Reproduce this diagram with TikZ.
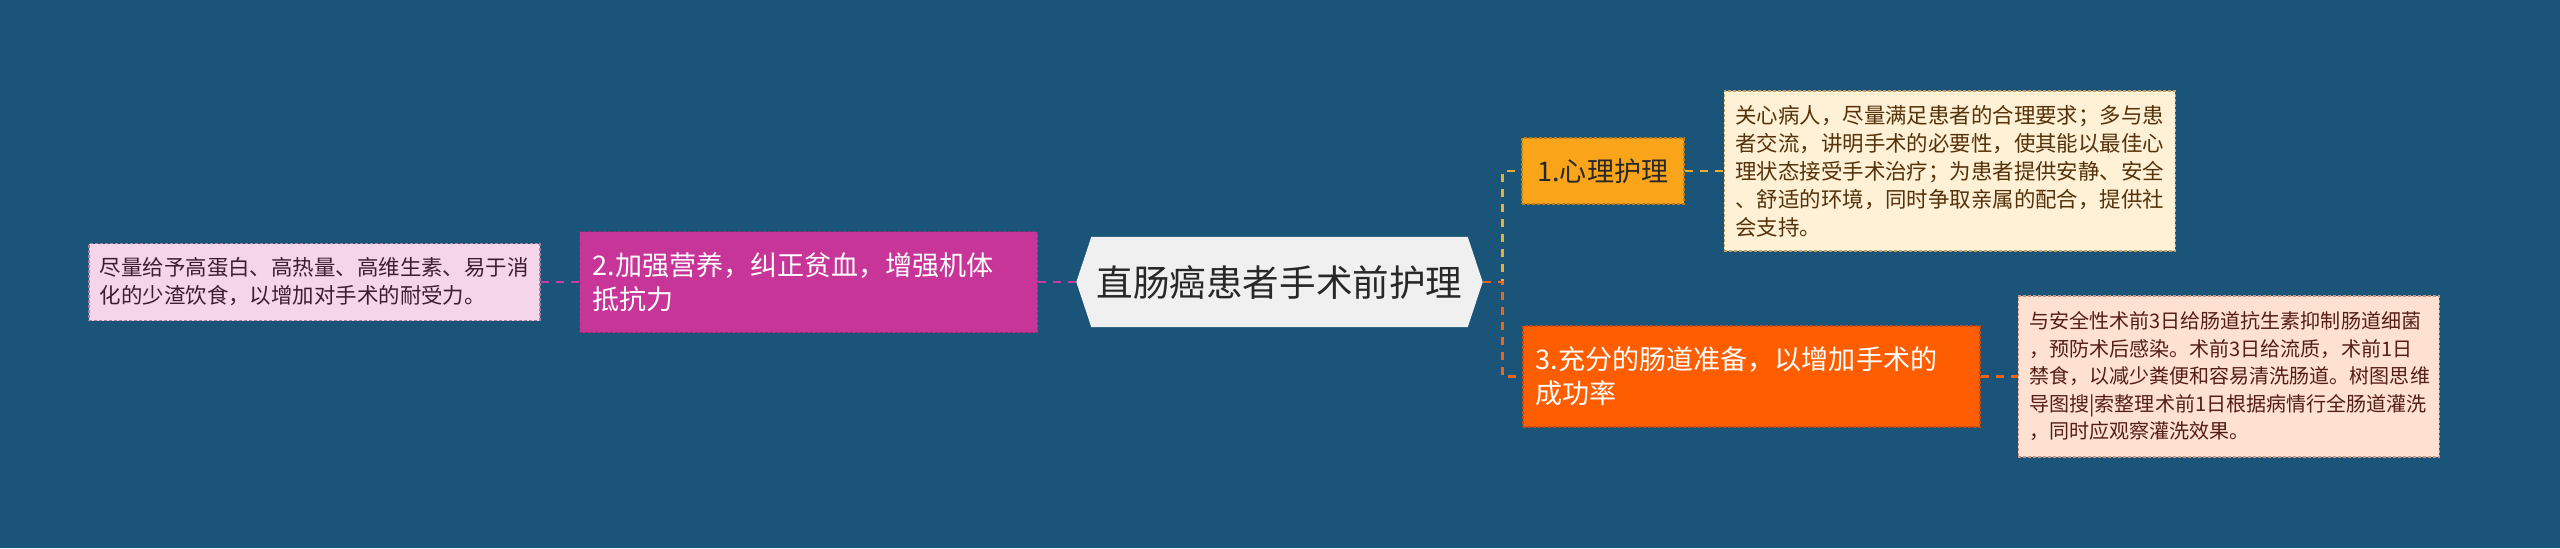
\documentclass[tikz,border=0pt]{standalone}
\usepackage{fontspec}
\setmainfont{Noto Sans CJK SC}
\usepackage{tikz}
\usepackage{xcolor}
\usetikzlibrary{positioning, backgrounds}

\definecolor{bgblue}{RGB}{27,84,121}
\definecolor{rootfill}{RGB}{240,240,240}
\definecolor{roottext}{RGB}{40,40,40}
\definecolor{psyfill}{RGB}{250,165,25}
\definecolor{psyborder}{RGB}{190,125,20}
\definecolor{psynote}{RGB}{255,241,214}
\definecolor{psynoteborder}{RGB}{195,160,95}
\definecolor{psytext}{RGB}{85,50,10}
\definecolor{bowelfill}{RGB}{255,94,0}
\definecolor{bowelborder}{RGB}{195,75,15}
\definecolor{bowelnote}{RGB}{255,225,210}
\definecolor{bowelnoteborder}{RGB}{200,150,130}
\definecolor{boweltext}{RGB}{85,30,20}
\definecolor{nutrifill}{RGB}{199,53,152}
\definecolor{nutriborder}{RGB}{150,40,120}
\definecolor{nutrinote}{RGB}{245,213,234}
\definecolor{nutrinoteborder}{RGB}{165,130,155}
\definecolor{nutritext}{RGB}{60,30,50}
\definecolor{linkyellow}{RGB}{235,175,45}
\definecolor{linkorange}{RGB}{240,100,20}
\definecolor{linkmagenta}{RGB}{200,60,160}

\begin{document}
\begin{tikzpicture}[node distance=0.38cm, auto,
    rootbox/.style={rectangle, minimum width=3.75cm, minimum height=0.89cm, inner sep=0pt,
        text=roottext, font=\fontsize{10.4pt}{12pt}\selectfont},
    topicbox/.style={rectangle, draw, line width=0.45pt, dash pattern=on 0.03cm off 0.02cm,
        inner xsep=0.13cm, inner ysep=0pt, align=left, font=\fontsize{7.7pt}{9.67pt}\selectfont},
    notebox/.style={rectangle, draw, line width=0.45pt, dash pattern=on 0.03cm off 0.02cm,
        inner xsep=0.11cm, inner ysep=0pt, align=left, font=\fontsize{6.1pt}{7.97pt}\selectfont},
    link/.style={line width=0.8pt, dash pattern=on 0.08cm off 0.07cm}
]
    \useasboundingbox (0,0) rectangle (25.6,5.48);

    % Nodes
    \node[rootbox] (root) at (12.795,2.66) {直肠癌患者手术前护理};
    \coordinate (rootL) at ([xshift=-0.15cm]root.west);
    \coordinate (rootR) at ([xshift=0.15cm]root.east);

    \node[topicbox, fill=nutrifill, draw=nutriborder, text=white, text width=4.32cm, minimum height=1.01cm,
        inner xsep=0.13cm, left=of rootL] (nutrition) {2.加强营养，纠正贫血，增强机体\\抵抗力};
    \node[notebox, fill=nutrinote, draw=nutrinoteborder, text=nutritext, text width=4.29cm, minimum height=0.77cm,
        left=of nutrition] (nutritionNote) {尽量给予高蛋白、高热量、高维生素、易于消\\化的少渣饮食，以增加对手术的耐受力。};

    \node[topicbox, fill=psyfill, draw=psyborder, text=roottext, text width=1.36cm, minimum height=0.66cm,
        align=center, anchor=west] (psych) at (15.21,3.77) {1.心理护理};
    \node[notebox, fill=psynote, draw=psynoteborder, text=psytext, text width=4.29cm, minimum height=1.60cm,
        right=0.39cm of psych] (psychNote) {关心病人，尽量满足患者的合理要求；多与患\\者交流，讲明手术的必要性，使其能以最佳心\\理状态接受手术治疗；为患者提供安静、安全\\、舒适的环境，同时争取亲属的配合，提供社\\会支持。};

    \node[topicbox, fill=bowelfill, draw=bowelborder, text=white, text width=4.31cm, minimum height=1.01cm,
        anchor=west] (bowel) at (15.22,1.715) {3.充分的肠道准备，以增加手术的\\成功率};
    \node[notebox, fill=bowelnote, draw=bowelnoteborder, text=boweltext, text width=3.99cm, minimum height=1.61cm,
        font=\fontsize{5.7pt}{7.82pt}\selectfont, right=0.37cm of bowel] (bowelNote) {与安全性术前3日给肠道抗生素抑制肠道细菌\\，预防术后感染。术前3日给流质，术前1日\\禁食，以减少粪便和容易清洗肠道。树图思维\\导图搜|索整理术前1日根据病情行全肠道灌洗\\，同时应观察灌洗效果。};

    % Background and root shape
    \begin{pgfonlayer}{background}
        \fill[bgblue] (0,0) rectangle (25.6,5.48);
        \fill[rootfill] (root.north west) -- (root.north east) -- (rootR) -- (root.south east)
            -- (root.south west) -- (rootL) -- cycle;
    \end{pgfonlayer}

    % Links
    \draw[link, linkmagenta] (rootL) -- (nutrition.east);
    \draw[link, linkmagenta] (nutrition.west) -- (nutritionNote.east);
    \draw[link, linkyellow] (rootR) -- ++(0.2,0) |- (psych.west);
    \draw[link, linkorange] (rootR) -- ++(0.2,0) |- (bowel.west);
    \draw[link, linkyellow] (psych.east) -- (psychNote.west);
    \draw[link, linkorange] (bowel.east) -- (bowelNote.west);
\end{tikzpicture}
\end{document}
